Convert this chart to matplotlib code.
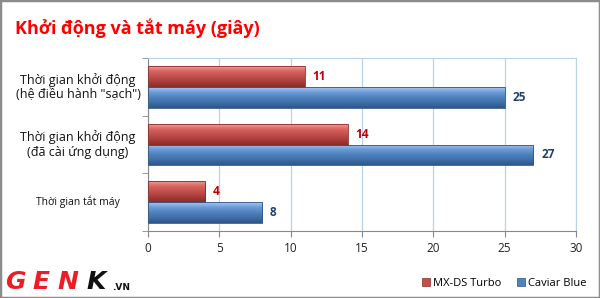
"""Bar chart: boot and shutdown times (seconds), MX-DS Turbo vs Caviar Blue."""

import matplotlib

matplotlib.use("Agg")
import matplotlib.pyplot as plt
import numpy as np
from matplotlib.colors import LinearSegmentedColormap
from matplotlib.patches import Rectangle

plt.rcParams["font.family"] = ["Open Sans", "DejaVu Sans"]

categories = [
    "Thời gian khởi động\n(hệ điều hành \"sạch\")",
    "Thời gian khởi động\n(đã cài ứng dụng)",
    "Thời gian tắt máy",
]
series_names = ["MX-DS Turbo", "Caviar Blue"]
mx_ds_turbo = [11, 14, 4]
caviar_blue = [25, 27, 8]
x_ticks = [0, 5, 10, 15, 20, 25, 30]

red_cmap = LinearSegmentedColormap.from_list(
    "red3d", ["#f09a98", "#d8625e", "#c0504d", "#a93c39", "#8c2b28"])
blue_cmap = LinearSegmentedColormap.from_list(
    "blue3d", ["#a8c8ee", "#6b9bd6", "#4f81bd", "#3f6fa8", "#2d5688"])

fig = plt.figure(figsize=(6.0, 2.98), dpi=100)
ax = fig.add_axes([148 / 600, 1 - 231 / 298, 428 / 600, 173 / 298])

y = np.arange(len(categories))
h = 0.36
grad = np.linspace(0, 1, 64).reshape(-1, 1)

for vals, offset, cmap, edge, tcol in [
    (mx_ds_turbo, -h / 2, red_cmap, "#8c2b28", "#c00000"),
    (caviar_blue, h / 2, blue_cmap, "#2d5688", "#1f3f6e"),
]:
    bars = ax.barh(y + offset, vals, height=h, color="none",
                   edgecolor=edge, linewidth=0.6, zorder=3)
    for bar, v in zip(bars, vals):
        y0 = bar.get_y()
        im = ax.imshow(grad, cmap=cmap, aspect="auto", zorder=2,
                       extent=(0, v, y0 + h, y0), interpolation="bilinear")
        im.set_clip_path(bar)
        ax.text(v + 0.55, y0 + h / 2, str(v), va="center", ha="left",
                fontsize=8.5, fontweight="bold", color=tcol, zorder=4)

ax.set_xlim(0, 30)
ax.set_ylim(len(categories) - 0.5, -0.5)
ax.set_xticks(x_ticks)
ax.set_xticklabels([str(t) for t in x_ticks], fontsize=8.5, color="#222222")
ax.set_yticks(y)
ax.set_yticklabels([])
ax.set_yticks(np.arange(-0.5, len(categories), 1), minor=True)
ax.tick_params(axis="y", which="major", length=0)
ax.tick_params(axis="y", which="minor", length=4, color="#888888")
ax.tick_params(axis="x", length=4, color="#888888", pad=4)
ax.grid(axis="x", color="#b9d1ea", linewidth=0.9, zorder=0)
ax.set_axisbelow(True)
for side in ["left", "bottom"]:
    ax.spines[side].set_color("#888888")
for side in ["top", "right"]:
    ax.spines[side].set_color("#b9d1ea")

label_sizes = [9, 9, 7.5]
for yi, lab, fs in zip(y, categories, label_sizes):
    fig.text(78 / 600, ax.transData.transform((0, yi))[1] / fig.bbox.height,
             lab, ha="center", va="center", fontsize=fs, color="#111111",
             linespacing=1.15)

fig.text(15 / 600, 1 - 28 / 298, "Khởi động và tắt máy (giây)",
         fontsize=13, fontweight="bold", color="#ff0000", va="center")

handles = [Rectangle((0, 0), 1, 1, facecolor=c, edgecolor=e, linewidth=0.5)
           for c, e in [("#c0504d", "#8c2b28"), ("#4f81bd", "#2d5688")]]
fig.legend(handles, series_names, loc="center right",
           bbox_to_anchor=(592 / 600, 1 - 283 / 298), ncol=2, frameon=False,
           fontsize=8, handlelength=0.7, handleheight=0.7, handletextpad=0.3,
           columnspacing=1.4, borderpad=0)

# GENK logo, bottom left: wide italic letters placed one by one
logo = [("G", 5, "#ee1c24"), ("E", 32, "#ee1c24"), ("N", 57, "#ee1c24"),
        ("K", 86, "#111111")]
for ch, px, col in logo:
    fig.text(px / 600, 1 - 282 / 298, ch, fontsize=18, fontweight="heavy",
             style="italic", color=col, va="center", family="DejaVu Sans")
fig.text(112 / 600, 1 - 288 / 298, ".VN", fontsize=6.5, fontweight="bold",
         color="#111111", va="center", family="DejaVu Sans")

fig.patches.append(Rectangle((0, 0), 1, 1, transform=fig.transFigure,
                             fill=False, edgecolor="#8c8c8c", linewidth=2.5))

fig.savefig("out.png", dpi=100)
